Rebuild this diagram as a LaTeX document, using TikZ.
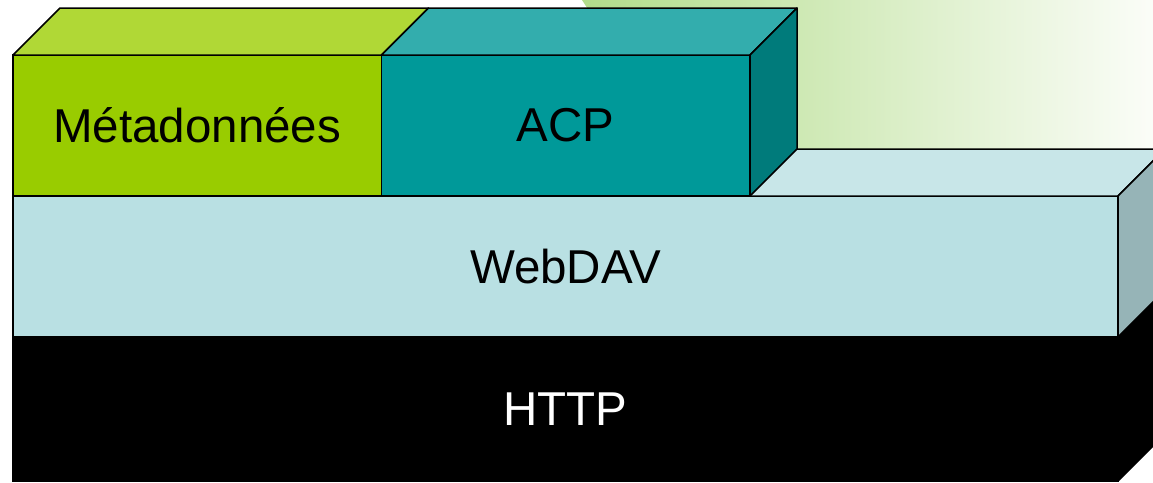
\documentclass[tikz,border=0pt]{standalone}
\usepackage{fontspec}
\setmainfont{Liberation Sans}
\usetikzlibrary{positioning}

\definecolor{metafront}{HTML}{99CC00}
\definecolor{metatop}{HTML}{B0D836}
\definecolor{acpfront}{HTML}{009999}
\definecolor{acptop}{HTML}{33ADAD}
\definecolor{acpside}{HTML}{007B7B}
\definecolor{davfront}{HTML}{B9E0E3}
\definecolor{davtop}{HTML}{C8E6E8}
\definecolor{davside}{HTML}{96B4B7}
\definecolor{bgleft}{HTML}{B2DC8A}
\definecolor{bgmid}{HTML}{E4F3D8}
\definecolor{bgright}{HTML}{FBFDF8}

\begin{document}
\begin{tikzpicture}[
  x=1pt,y=-1pt,
  face/.style={draw,line width=1.5pt,inner sep=0pt,outer sep=0pt,anchor=north west,
    font=\fontsize{47.5}{56}\selectfont},
  wide/.style={face,minimum width=1105pt},
  narrow/.style={face,minimum width=368.5pt,minimum height=141pt},
  edgeline/.style={draw,line width=1.5pt,line join=round},
]
  \useasboundingbox (0,0) rectangle (1153,482);
  \clip (0,0) rectangle (1153,482);

  % Background swirl
  \shade[left color=bgleft,middle color=bgmid,right color=bgright]
    (582,0) .. controls (620,60) and (680,120) .. (760,165) -- (1153,165) -- (1153,0) -- cycle;

  % HTTP layer
  \node[wide,minimum height=144pt,fill=black,text=white] (http) at (13,337) {HTTP};
  \path[edgeline,fill=black] (http.north east) -- ++(47,-47) -- ++(0,144) -- (http.south east) -- cycle;

  % WebDAV layer
  \node[wide,minimum height=141pt,fill=davfront] (dav) at (13,196) {WebDAV};
  \path[edgeline,fill=davtop] (dav.north west) -- ++(47,-47) -- ++(1105,0) -- (dav.north east) -- cycle;
  \path[edgeline,fill=davside] (dav.north east) -- ++(47,-47) -- ++(0,141) -- (dav.south east) -- cycle;

  % Top layer
  \node[narrow,fill=metafront] (meta) at (13,55) {Métadonnées};
  \node[narrow,fill=acpfront,anchor=west,right=0pt of meta] (acp) {ACP};
  \path[edgeline,fill=metatop] (meta.north west) -- ++(47,-47) -- ++(368.5,0) -- (meta.north east) -- cycle;
  \path[edgeline,fill=acptop] (acp.north west) -- ++(47,-47) -- ++(368.5,0) -- (acp.north east) -- cycle;
  \path[edgeline,fill=acpside] (acp.north east) -- ++(47,-47) -- ++(0,141) -- (acp.south east) -- cycle;
\end{tikzpicture}
\end{document}
